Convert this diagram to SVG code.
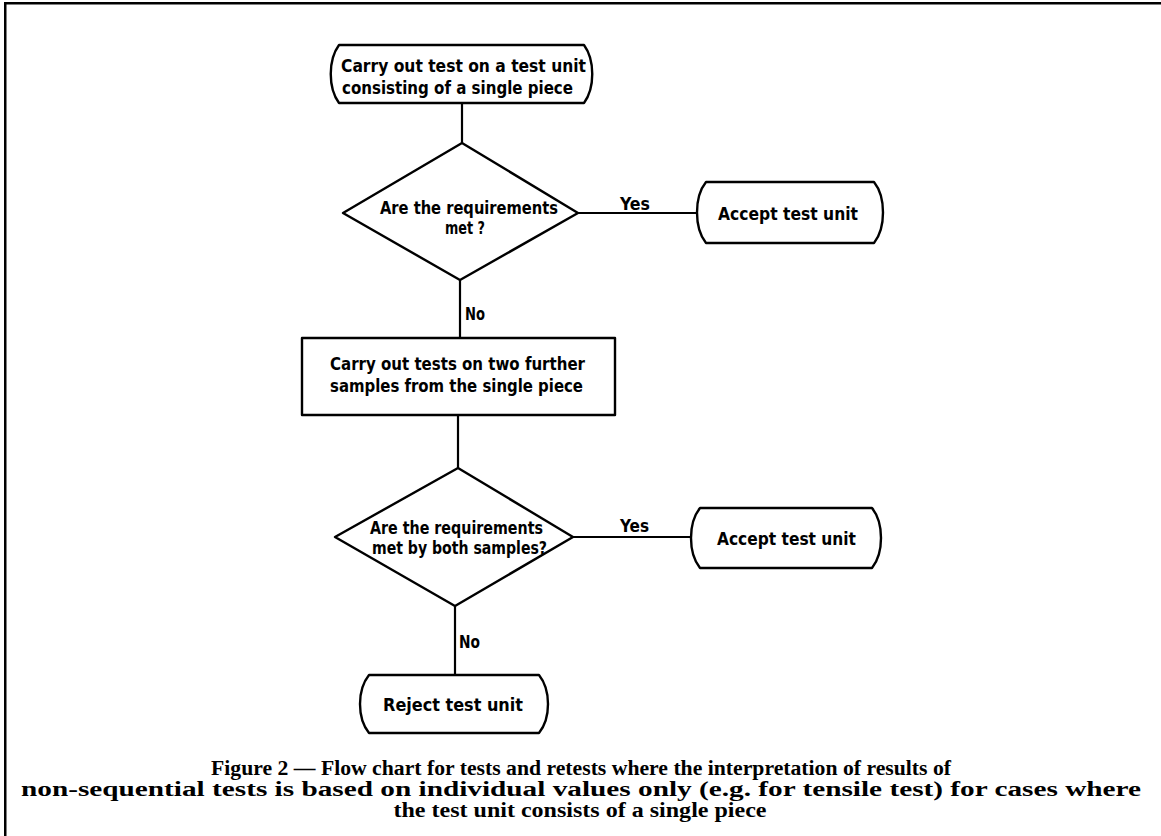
<svg xmlns="http://www.w3.org/2000/svg" width="1161" height="836" viewBox="0 0 1161 836">
<style>
.shape{fill:#fff;stroke:#000;stroke-width:2.4;stroke-linejoin:round}
.conn{stroke:#000;stroke-width:2.2;fill:none}
.lbl{font-family:"DejaVu Sans Condensed","DejaVu Sans","Liberation Sans",sans-serif;font-size:17px;font-weight:bold;fill:#000}
.cap{font-family:"Liberation Serif","DejaVu Serif",serif;font-size:20px;font-weight:bold;fill:#000;text-anchor:middle}
</style>
<rect x="0" y="0" width="1161" height="836" fill="#fff"/>
<rect x="4" y="2" width="1157" height="2.5" fill="#000"/>
<rect x="4" y="2" width="2.5" height="834" fill="#000"/>

<g id="connectors">
<line class="conn" x1="462" y1="103" x2="462" y2="143"/>
<line class="conn" x1="578" y1="213" x2="697" y2="213"/>
<line class="conn" x1="460" y1="280" x2="460" y2="338"/>
<line class="conn" x1="458" y1="415" x2="458" y2="468"/>
<line class="conn" x1="573" y1="537" x2="691" y2="537"/>
<line class="conn" x1="455" y1="606" x2="455" y2="675"/>
<text class="lbl" x="620" y="210" textLength="30" lengthAdjust="spacingAndGlyphs">Yes</text>
<text class="lbl" x="465" y="320" textLength="20" lengthAdjust="spacingAndGlyphs">No</text>
<text class="lbl" x="620" y="532" textLength="29" lengthAdjust="spacingAndGlyphs">Yes</text>
<text class="lbl" x="459" y="648" textLength="21" lengthAdjust="spacingAndGlyphs">No</text>
</g>

<g id="start">
<path class="shape" d="M339 45 H584 C595 60 595 88 584 103 H339 C328 88 328 60 339 45 Z"/>
<text class="lbl" x="341" y="72" textLength="245" lengthAdjust="spacingAndGlyphs">Carry out test on a test unit</text>
<text class="lbl" x="342" y="94" textLength="231" lengthAdjust="spacingAndGlyphs">consisting of a single piece</text>
</g>

<g id="decision1">
<polygon class="shape" points="462,143 578,213 460,280 343,213"/>
<text class="lbl" x="380" y="214" textLength="178" lengthAdjust="spacingAndGlyphs">Are the requirements</text>
<text class="lbl" x="445" y="234" textLength="40" lengthAdjust="spacingAndGlyphs">met ?</text>
</g>

<g id="accept1">
<path class="shape" d="M706 182 H874 C886 197 886 228 874 243 H706 C694 228 694 197 706 182 Z"/>
<text class="lbl" x="718" y="220" textLength="140" lengthAdjust="spacingAndGlyphs">Accept test unit</text>
</g>

<g id="retest">
<rect class="shape" x="302" y="338" width="313" height="77"/>
<text class="lbl" x="330" y="370" textLength="255" lengthAdjust="spacingAndGlyphs">Carry out tests on two further</text>
<text class="lbl" x="330" y="392" textLength="253" lengthAdjust="spacingAndGlyphs">samples from the single piece</text>
</g>

<g id="decision2">
<polygon class="shape" points="458,468 573,537 455,606 335,537"/>
<text class="lbl" x="370" y="534" textLength="173" lengthAdjust="spacingAndGlyphs">Are the requirements</text>
<text class="lbl" x="372" y="554" textLength="175" lengthAdjust="spacingAndGlyphs">met by both samples?</text>
</g>

<g id="accept2">
<path class="shape" d="M700 508 H872 C884 523 884 553 872 568 H700 C688 553 688 523 700 508 Z"/>
<text class="lbl" x="717" y="545" textLength="139" lengthAdjust="spacingAndGlyphs">Accept test unit</text>
</g>

<g id="reject">
<path class="shape" d="M369 675 H539 C551 690 551 718 539 733 H369 C357 718 357 690 369 675 Z"/>
<text class="lbl" x="383" y="711" textLength="140" lengthAdjust="spacingAndGlyphs">Reject test unit</text>
</g>

<g id="caption">
<text class="cap" x="581" y="775" textLength="740" lengthAdjust="spacingAndGlyphs">Figure 2 — Flow chart for tests and retests where the interpretation of results of</text>
<text class="cap" x="581" y="796" textLength="1120" lengthAdjust="spacingAndGlyphs">non-sequential tests is based on individual values only (e.g. for tensile test) for cases where</text>
<text class="cap" x="580" y="817" textLength="373" lengthAdjust="spacingAndGlyphs">the test unit consists of a single piece</text>
</g>
</svg>
